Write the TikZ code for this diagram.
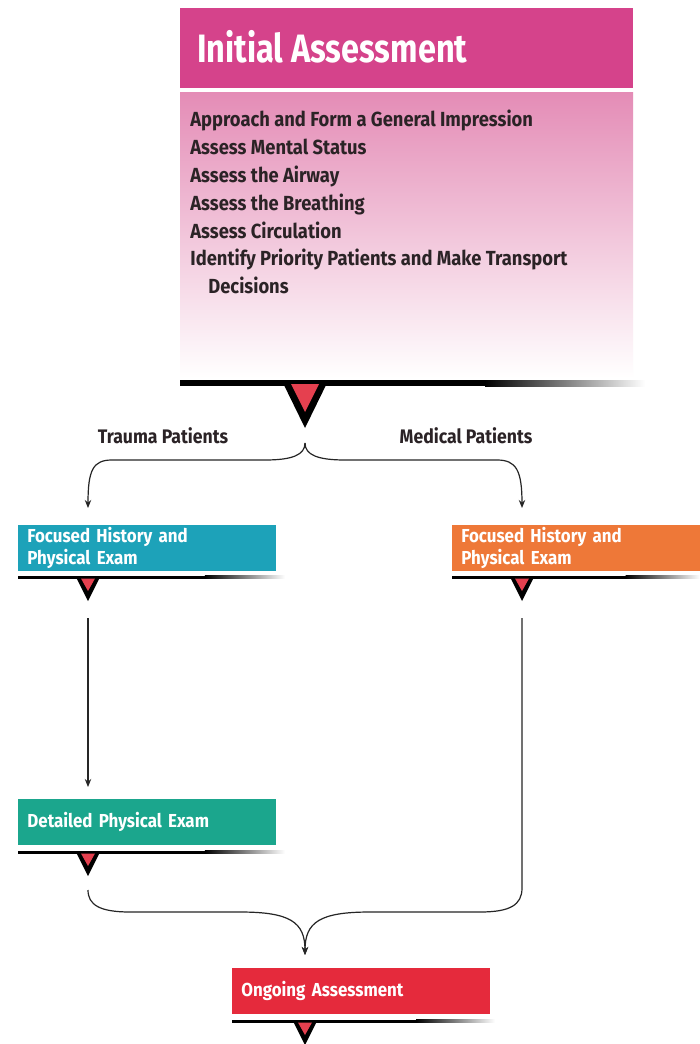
\documentclass[tikz,border=0pt]{standalone}
\usepackage{fontspec}
\newfontfamily\diafont{Fira Sans}[FakeStretch=0.82]
\newfontfamily\stepfont{Fira Sans}[FakeStretch=0.9]
\usetikzlibrary{arrows.meta}

\definecolor{headpink}{HTML}{D5438B}
\definecolor{bodypink}{HTML}{E48CB6}
\definecolor{midpink}{HTML}{EDB4CF}
\definecolor{traumablue}{HTML}{1DA2B9}
\definecolor{medorange}{HTML}{EE7838}
\definecolor{examgreen}{HTML}{1BA68D}
\definecolor{ongoingred}{HTML}{E52A3C}
\definecolor{tipred}{HTML}{E5404F}
\definecolor{darktext}{HTML}{2B2326}

% bar under a step box: left x, right x, y, x of the pointer
\newcommand{\stepbar}[4]{%
  \fill[black] (#1,#3-1.5) rectangle ({#1+0.7*(#2-#1)},#3+1.5);
  \shade[left color=black,right color=white] ({#1+0.7*(#2-#1)},#3-1.5) rectangle (#2,#3+1.5);
  \fill[black] (#4-12,#3) -- (#4+12,#3) -- (#4,#3+24) -- cycle;
  \fill[tipred] (#4-7,#3+1.5) -- (#4+7,#3+1.5) -- (#4,#3+14) -- cycle;
}

\tikzset{
  stepbox/.style={anchor=north west, inner xsep=4.5pt, inner ysep=0pt,
    minimum height=23pt, text width=120pt, align=left, text=white,
    font=\stepfont\bfseries\fontsize{9.4}{11}\selectfont},
  flow/.style={draw=black!85, line width=0.6pt, -{Stealth[length=4pt,width=3.2pt]}},
  branchlabel/.style={text=darktext, font=\stepfont\bfseries\fontsize{9.8}{10}\selectfont},
}

\begin{document}
\begin{tikzpicture}[x=0.5pt,y=-0.5pt]
  \useasboundingbox[fill=white] (0,0) rectangle (700,1044);

  % initial assessment
  \fill[headpink] (180,8) rectangle (633,88);
  \node[anchor=base west, inner sep=0, text=white,
    font=\diafont\bfseries\fontsize{19.8}{24}\selectfont] (title) at (197,62) {Initial Assessment};
  \shade[top color=bodypink, middle color=midpink, bottom color=white] (180,92) rectangle (633,378);
  \node[anchor=north west, inner sep=0, align=left, text=darktext,
    font=\stepfont\bfseries\fontsize{10.2}{13.9}\selectfont] (steps) at (190,110)
    {Approach and Form a General Impression\\
     Assess Mental Status\\
     Assess the Airway\\
     Assess the Breathing\\
     Assess Circulation\\
     Identify Priority Patients and Make Transport\\
     \hspace*{9pt}Decisions};
  \fill[black] (180,380) rectangle (485,386);
  \shade[left color=black,right color=white] (485,380) rectangle (645,386);
  \fill[black] (282,381) -- (328,381) -- (305,428) -- cycle;
  \fill[tipred] (291,384) -- (319,384) -- (305,412) -- cycle;
  \coordinate (split) at (305,443);

  \node[branchlabel, anchor=base] (trauma) at (163,443) {Trauma Patients};
  \node[branchlabel, anchor=base] (medical) at (466,443) {Medical Patients};

  % focused history boxes
  \node[stepbox, fill=traumablue] (fhtrauma) at (18,525) {Focused History and\\Physical Exam};
  \stepbar{18}{285}{577}{88}
  \node[stepbox, fill=medorange, text width=115pt] (fhmedical) at (452,525) {Focused History and\\Physical Exam};
  \stepbar{452}{700}{577}{522}
  \coordinate (fhtraumain) at (88,508);
  \coordinate (fhmedicalin) at (522,508);
  \coordinate (fhtraumaout) at (88,618);
  \coordinate (fhmedicalout) at (522,618);

  % detailed exam
  \node[stepbox, fill=examgreen] (detailed) at (18,799) {Detailed Physical Exam};
  \stepbar{18}{285}{852}{88}
  \coordinate (detailedin) at (88,787);
  \coordinate (detailedout) at (88,890);

  % ongoing assessment
  \node[stepbox, fill=ongoingred] (ongoing) at (232,968) {Ongoing Assessment};
  \stepbar{232}{495}{1021}{305}
  \coordinate (ongoingin) at (305,955);

  % connectors
  \draw[flow] (split) .. controls (305,455) and (292,460) .. (265,460) -- (112,460)
    .. controls (93,460) and (88,470) .. (fhtraumain);
  \draw[flow] (split) .. controls (305,455) and (318,460) .. (345,460) -- (497,460)
    .. controls (516,460) and (522,470) .. (fhmedicalin);
  \draw[flow] (fhtraumaout) -- (detailedin);
  \draw[flow] (detailedout) .. controls (88,905) and (100,912) .. (130,912) -- (240,912)
    .. controls (290,912) and (305,922) .. (ongoingin);
  \draw[flow] (fhmedicalout) -- (522,888) .. controls (522,905) and (510,912) .. (480,912) -- (370,912)
    .. controls (320,912) and (305,922) .. (ongoingin);
\end{tikzpicture}
\end{document}
